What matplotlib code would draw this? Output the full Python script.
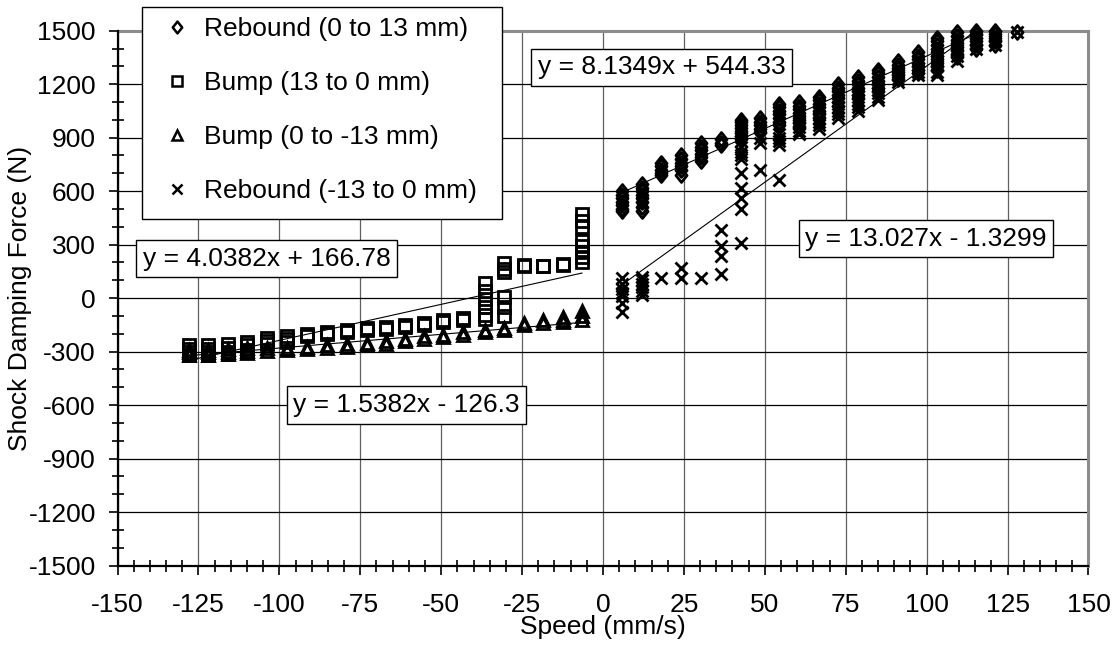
import matplotlib.pyplot as plt
import numpy as np
from matplotlib.lines import Line2D
from matplotlib.patches import Rectangle
from matplotlib.path import Path
from matplotlib.ticker import MultipleLocator

plt.rcParams['font.family'] = ['Liberation Sans', 'DejaVu Sans']
plt.rcParams['axes.unicode_minus'] = False

# shaft speeds (mm/s) of the test steps
neg_speed = [-6.5, -12.5, -18.4, -24.4, -30.6, -36.5, -43.2, -49.4, -55.2, -61.2, -67.1,
             -73.0, -79.2, -85.4, -91.6, -97.7, -103.9, -109.9, -115.8, -122.0, -127.9]
pos_speed = [6.0, 12.2, 17.8, 24.0, 30.2, 36.5, 42.7, 48.6, 54.5, 60.6, 66.8,
             72.7, 78.9, 85.1, 91.2, 97.4, 103.2, 109.4, 115.1, 121.2, 127.9]

# damping force readings (N) at each speed step
rebound_0_13 = [
    [600, 580, 560, 540, 520, 500, 490], [640, 620, 600, 580, 560, 540, 510, 490],
    [760, 740, 720, 700, 690], [800, 780, 760, 740, 720, 690],
    [870, 850, 830, 810, 790, 770], [890, 870, 860],
    [1000, 985, 970, 955, 940, 925, 910, 895], [1010, 990, 970, 950, 930],
    [1090, 1070, 1050, 1030, 1010, 990, 970],
    [1100, 1080, 1060, 1040, 1020, 1000, 980, 960],
    [1130, 1110, 1090, 1070, 1050, 1030, 1010],
    [1200, 1180, 1160, 1140, 1120, 1100, 1080],
    [1240, 1220, 1200, 1180, 1160, 1140, 1120],
    [1280, 1260, 1240, 1220, 1200, 1180, 1160],
    [1330, 1310, 1290, 1270, 1250, 1230],
    [1380, 1360, 1340, 1320, 1300, 1280, 1265],
    [1460, 1440, 1420, 1400, 1380, 1360, 1340, 1320, 1300, 1280],
    [1490, 1470, 1450, 1430, 1410, 1390, 1370, 1350],
    [1500, 1480, 1460, 1440, 1420, 1400],
    [1500, 1480, 1460, 1440, 1420],
    [1490],
]
bump_13_0 = [
    [470, 430, 400, 320, 290, 260, 230, 205], [192, 185], [182, 178], [185, 178],
    [195, 165, 145, 5, -50, -100], [85, 40, -5, -50, -95, -115], [-110, -125],
    [-122, -135], [-138, -150], [-150, -162], [-160, -172], [-168, -180],
    [-178, -190], [-188, -200], [-200, -212], [-215, -228, -245],
    [-225, -240, -260], [-245, -265, -290, -305], [-260, -280, -300, -315],
    [-265, -285, -305, -320], [-265, -285, -300, -320],
]
bump_0_m13 = [
    [-70, -100, -125], [-108, -122, -132], [-125, -138], [-140, -152],
    [-165, -178], [-178, -190], [-192, -205], [-208, -220], [-215, -230],
    [-228, -242], [-240, -255], [-250, -262], [-260, -272], [-265, -280],
    [-275, -285], [-280, -290], [-280, -295], [-280, -295, -310],
    [-285, -300, -315], [-290, -305, -320], [-290, -300, -320],
]
rebound_m13_0 = [
    [110, 80, 50, 30, 10, -30, -80], [120, 100, 80, 60, 40, 20], [115], [170, 115], [115],
    [380, 290, 235, 135], [880, 850, 820, 800, 780, 700, 620, 560, 500, 310],
    [900, 870, 720], [920, 900, 880, 860, 665], [980, 960, 940, 920],
    [1010, 990, 970, 950], [1070, 1050, 1030, 1010], [1110, 1090, 1070, 1050],
    [1170, 1150, 1130, 1110], [1250, 1230, 1210], [1290, 1270, 1250],
    [1330, 1300, 1270, 1250], [1390, 1360, 1330], [1450, 1430, 1400],
    [1470, 1440, 1420], [1490],
]

# linear trend lines (slope, intercept)
fit_rebound_0_13 = (8.1349, 544.33)
fit_bump_13_0 = (4.0382, 166.78)
fit_bump_0_m13 = (1.5382, -126.3)
fit_rebound_m13_0 = (13.027, -1.3299)

labels = ['Rebound (0 to 13 mm)', 'Bump (13 to 0 mm)',
          'Bump (0 to -13 mm)', 'Rebound (-13 to 0 mm)']


def flatten(speeds, forces):
    xs = np.repeat(speeds, [len(f) for f in forces])
    ys = np.concatenate(forces)
    return xs, ys


def eqn(fit):
    m, b = fit
    sign = '+' if b >= 0 else '-'
    return f'y = {m:g}x {sign} {abs(b):g}'


# Excel style diamond is a bit narrower than tall
diamond = Path([(0, 1), (0.8, 0), (0, -1), (-0.8, 0), (0, 1)],
               [Path.MOVETO, Path.LINETO, Path.LINETO, Path.LINETO, Path.CLOSEPOLY])

styles = [
    dict(marker=diamond, ms=10, mew=2.0),
    dict(marker='s', ms=8, mew=2.0),
    dict(marker='^', ms=9, mew=2.0),
    dict(marker='x', ms=9, mew=2.0),
]

series = [
    (pos_speed, rebound_0_13, fit_rebound_0_13),
    (neg_speed, bump_13_0, fit_bump_13_0),
    (neg_speed, bump_0_m13, fit_bump_0_m13),
    (pos_speed, rebound_m13_0, fit_rebound_m13_0),
]

fig = plt.figure(figsize=(11.18, 6.46), dpi=100)
ax = fig.add_axes([0.1051, 0.1246, 0.8685, 0.8279])

for (speeds, forces, fit), st in zip(series, styles):
    xs, ys = flatten(speeds, forces)
    ax.plot(xs, ys, ls='none', mfc='none', mec='black', clip_on=False, zorder=3, **st)
for speeds, forces, fit in series:
    xx = np.array([min(speeds), max(speeds)])
    ax.plot(xx, fit[0] * xx + fit[1], color='black', lw=0.8, zorder=4)

ax.set_xlim(-150, 150)
ax.set_ylim(-1500, 1500)
ax.xaxis.set_major_locator(MultipleLocator(25))
ax.xaxis.set_minor_locator(MultipleLocator(5))
ax.yaxis.set_major_locator(MultipleLocator(300))
ax.yaxis.set_minor_locator(MultipleLocator(100))
ax.tick_params(which='major', direction='out', length=6.5, width=1.2, labelsize=19)
ax.tick_params(axis='x', which='major', pad=13)
ax.tick_params(axis='y', which='major', pad=9)
ax.tick_params(which='minor', direction='inout', length=8, width=1.2)

ax.xaxis.grid(True, which='major', color='#606060', lw=0.9)
ax.yaxis.grid(True, which='major', color='black', lw=0.9)
ax.set_axisbelow(True)

for side in ['left', 'bottom']:
    ax.spines[side].set_color('black')
    ax.spines[side].set_linewidth(1.6)
    ax.spines[side].set_zorder(5)
for side in ['top', 'right']:
    ax.spines[side].set_color('#8c8c8c')
    ax.spines[side].set_linewidth(2.2)

ax.set_xlabel('Speed (mm/s)', fontsize=19)
ax.xaxis.set_label_coords(0.5, -0.093)
ax.set_ylabel('Shock Damping Force (N)', fontsize=19)
ax.yaxis.label.set_va('center')
ax.yaxis.set_label_coords(-0.1, 0.5)

# trend line equations
box = dict(boxstyle='square,pad=0.25', fc='white', ec='black', lw=1)
ax.text(18.2, 1295, eqn(fit_rebound_0_13), fontsize=19, ha='center', va='center', bbox=box, zorder=6)
ax.text(99.8, 334, eqn(fit_rebound_m13_0), fontsize=19, ha='center', va='center', bbox=box, zorder=6)
ax.text(-104.0, 221, eqn(fit_bump_13_0), fontsize=19, ha='center', va='center', bbox=box, zorder=6)
ax.text(-60.7, -600, eqn(fit_bump_0_m13), fontsize=19, ha='center', va='center', bbox=box, zorder=6)

# legend box sitting over the top left corner of the plot
W, H = 1118, 646
fig.add_artist(Rectangle((141.7 / W, 1 - 219.3 / H), 360 / W, 212 / H,
                         transform=fig.transFigure, fc='white', ec='black', lw=1, zorder=3))
handles = [Line2D([], [], ls='none', mfc='none', mec='black',
                  marker=st['marker'], ms=st['ms'] * 0.85, mew=1.8)
           for st in styles]
fig.legend(handles, labels, loc='upper left', bbox_to_anchor=(153 / W, 1 - 6.5 / H),
           frameon=False, fontsize=19, borderaxespad=0, borderpad=0.4,
           handlelength=1.0, handletextpad=0.53, labelspacing=1.14)

fig.savefig('out.png', dpi=100)
